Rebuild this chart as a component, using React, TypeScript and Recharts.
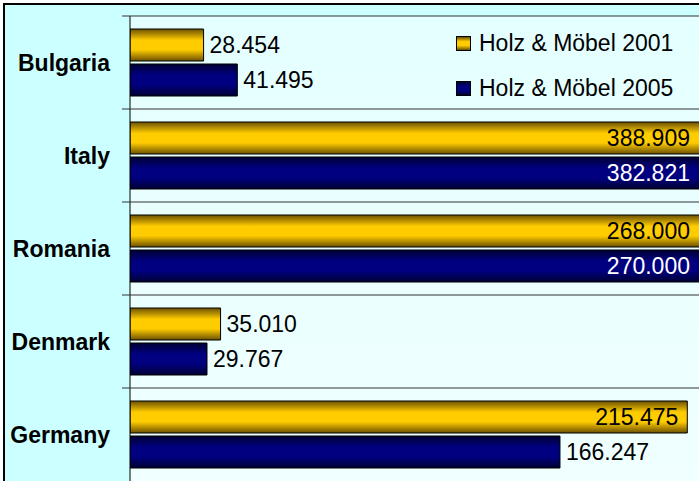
import React from "react";
import { BarChart, Bar, XAxis, YAxis, CartesianGrid, Legend, LabelList } from "recharts";

const countries = ["Bulgaria", "Italy", "Romania", "Denmark", "Germany"];
const holz2001 = [28454, 388909, 268000, 35010, 215475];
const holz2005 = [41495, 382821, 270000, 29767, 166247];
const seriesNames = ["Holz & Möbel 2001", "Holz & Möbel 2005"];

const data = countries.map((c, i) => ({ country: c, y2001: holz2001[i], y2005: holz2005[i] }));

const W = 699;
const H = 481;
const PLOT_LEFT = 130;
const PLOT_TOP = 16;
const BAND = (H - PLOT_TOP) / countries.length;
const FONT = '"Liberation Sans", Arial, sans-serif';
const FS = 23;

const fmt = (v: number) => String(v).replace(/\B(?=(\d{3})+(?!\d))/g, ".");

const CountryTick = (props: any) => {
  const { y, payload } = props;
  return (
    <g>
      <line x1={122} x2={W} y1={y - BAND / 2} y2={y - BAND / 2} stroke="#333" strokeWidth={1} />
      <text x={110} y={y} textAnchor="end" dominantBaseline="central" fontFamily={FONT} fontSize={FS} fontWeight="bold" fill="#000">
        {payload.value}
      </text>
    </g>
  );
};

const makeLabel = (insideFill: string) => (props: any) => {
  const { x, y, width, height, value } = props;
  const end = x + width;
  const s = fmt(value);
  const tw = (s.length - 1) * FS * 0.556 + FS * 0.278;
  const inside = end + 6 + tw > W;
  return (
    <text
      x={inside ? Math.min(end, W) - 9 : end + 6}
      y={y + height / 2}
      textAnchor={inside ? "end" : "start"}
      dominantBaseline="central"
      fontFamily={FONT}
      fontSize={FS}
      fill={inside ? insideFill : "#000"}
    >
      {s}
    </text>
  );
};

const legendSwatch = [
  "linear-gradient(#6b5000, #ffcc00 35%, #ffcc00 65%, #6b5000)",
  "linear-gradient(#000033, #000080 35%, #000080 65%, #000033)",
];

const LegendBox = () => (
  <div style={{ fontFamily: FONT, fontSize: FS, color: "#000" }}>
    {seriesNames.map((n, i) => (
      <div key={n} style={{ display: "flex", alignItems: "center", height: 45 }}>
        <span
          style={{
            display: "inline-block",
            width: 13,
            height: 13,
            border: "1px solid #000",
            background: legendSwatch[i],
            marginRight: 8,
          }}
        />
        <span>{n}</span>
      </div>
    ))}
  </div>
);

export default function App() {
  return (
    <div style={{ position: "absolute", left: 0, top: 0, width: W, height: H, background: "#fff", overflow: "hidden" }}>
      <div
        style={{
          position: "absolute",
          left: 3,
          top: 3,
          width: W + 20,
          height: H + 20,
          background: "#ccffff",
          borderLeft: "2px solid #000",
          borderTop: "2px solid #000",
        }}
      />
      <div style={{ position: "absolute", left: 0, top: 0 }}>
        <BarChart
          width={W}
          height={H}
          data={data}
          layout="vertical"
          margin={{ top: PLOT_TOP, right: 0, left: 0, bottom: 0 }}
          barCategoryGap={13}
          barGap={3}
        >
          <defs>
            <linearGradient id="plotBg" x1="0" y1="0" x2="0" y2="1">
              <stop offset="0" stopColor="#e4ffff" />
              <stop offset="1" stopColor="#f0ffff" />
            </linearGradient>
            <linearGradient id="gold" x1="0" y1="0" x2="0" y2="1">
              <stop offset="0" stopColor="#6b5000" />
              <stop offset="0.35" stopColor="#ffcc00" />
              <stop offset="0.65" stopColor="#ffcc00" />
              <stop offset="1" stopColor="#6b5000" />
            </linearGradient>
            <linearGradient id="navy" x1="0" y1="0" x2="0" y2="1">
              <stop offset="0" stopColor="#000033" />
              <stop offset="0.35" stopColor="#000080" />
              <stop offset="0.65" stopColor="#000080" />
              <stop offset="1" stopColor="#000033" />
            </linearGradient>
          </defs>
          <CartesianGrid horizontal={false} vertical={false} fill="url(#plotBg)" />
          <XAxis type="number" domain={[0, 220000]} allowDataOverflow hide />
          <YAxis
            type="category"
            dataKey="country"
            width={PLOT_LEFT}
            tickLine={false}
            axisLine={{ stroke: "#000", strokeWidth: 1 }}
            tick={<CountryTick />}
            interval={0}
          />
          <Legend
            layout="vertical"
            align="center"
            verticalAlign="middle"
            wrapperStyle={{ left: 456, top: 21, width: 243 }}
            content={<LegendBox />}
          />
          <Bar dataKey="y2001" name={seriesNames[0]} fill="url(#gold)" stroke="#000" strokeWidth={1} isAnimationActive={false}>
            <LabelList dataKey="y2001" content={makeLabel("#000")} />
          </Bar>
          <Bar dataKey="y2005" name={seriesNames[1]} fill="url(#navy)" stroke="#000" strokeWidth={1} isAnimationActive={false}>
            <LabelList dataKey="y2005" content={makeLabel("#fff")} />
          </Bar>
        </BarChart>
      </div>
    </div>
  );
}
